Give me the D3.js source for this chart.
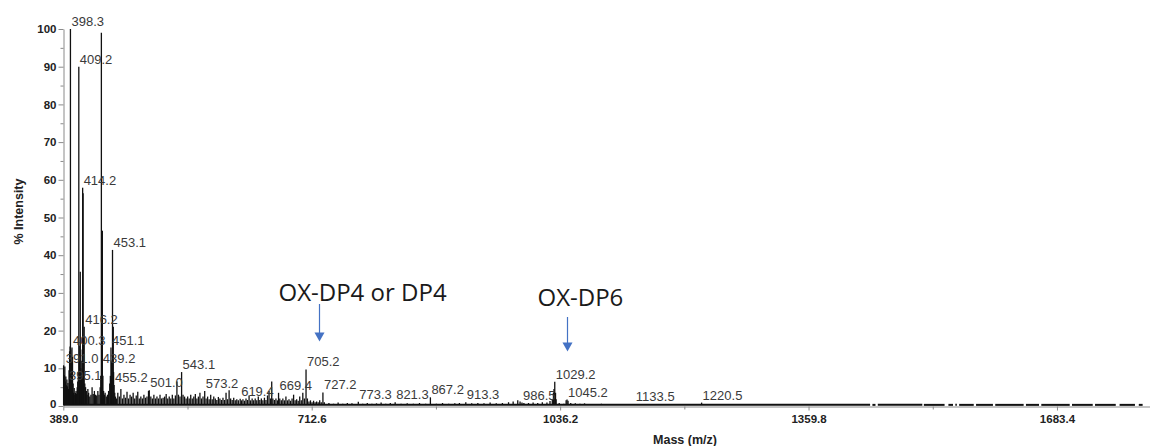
<!DOCTYPE html>
<html>
<head>
<meta charset="utf-8">
<script src="https://cdn.jsdelivr.net/npm/d3@7"></script>
<style>
  html, body { margin: 0; padding: 0; background: #fff; }
  svg { display: block; }
</style>
</head>
<body>
<svg id="chart" width="1150" height="446"></svg>
<script>
// ---- spectrum data: [m/z, % intensity] ----
const labelledPeaks = [
  [398.3, 100], [409.2, 90], [414.2, 57.9], [453.1, 41.4], [416.2, 21],
  [400.3, 15.5], [451.1, 15.5], [391.0, 10.5], [439.2, 10.5], [395.1, 6.1],
  [455.2, 5.6], [501.0, 4.2], [543.1, 9], [573.2, 4.0], [619.4, 1.9],
  [669.4, 3.5], [705.2, 9.7], [727.2, 3.6], [773.3, 1.1], [821.3, 1.0],
  [867.2, 2.3], [913.3, 1.0], [986.5, 0.9], [1029.2, 6.4], [1045.2, 1.7],
  [1133.5, 0.5], [1220.5, 0.9]
];

const unlabelledPeaks = [
  [438.6, 99], [439.9, 46.5], [414.8, 56.4], [411.1, 35.6], [454.1, 21],
  [660.5, 6.5], [537.0, 6.5], [605.0, 4.2], [1027.5, 3.5], [1028.2, 4.5]
];

const noisePeaks = [
  [389.4, 10.8], [389.9, 7.5], [390.4, 8.2], [391.6, 6.5], [392.3, 7.8],
  [393.0, 5.5], [393.7, 7.0], [394.4, 5.2], [395.8, 4.5], [396.5, 9.5],
  [397.2, 14.5], [397.8, 15.8], [398.8, 15.0], [399.4, 12.0], [401.0, 13.0],
  [401.8, 6.0], [402.5, 3.5], [403.2, 4.8], [404.0, 3.0], [404.8, 3.5],
  [405.6, 4.0], [406.3, 3.2], [407.1, 5.0], [407.8, 6.5], [408.5, 9.0],
  [409.9, 12.0], [410.5, 16.0], [411.8, 10.0], [412.5, 9.0], [413.2, 12.0],
  [413.7, 15.0], [415.4, 18.0], [417.0, 6.0], [418.0, 5.0], [419.0, 4.0],
  [420.0, 3.0], [421.0, 4.5], [422.0, 3.5], [423.5, 2.5], [425.0, 3.0],
  [426.5, 5.0], [428.0, 3.2], [429.5, 4.0], [431.0, 3.0], [432.5, 2.8],
  [434.0, 4.0], [435.5, 3.0], [437.0, 5.0], [437.8, 8.0], [440.6, 8.0],
  [441.5, 4.0], [442.5, 3.0], [443.5, 3.5], [445.0, 2.5], [446.5, 3.0],
  [448.0, 4.0], [449.5, 6.0], [450.3, 8.0], [451.8, 12.0], [452.4, 7.0],
  [454.5, 9.0], [456.0, 3.5], [457.0, 2.5], [458.5, 2.0], [460.0, 3.5],
  [462.0, 2.5], [464.0, 4.5], [466.0, 2.0], [468.0, 3.0], [470.0, 2.2],
  [472.0, 3.8], [474.0, 2.0], [476.0, 3.0], [478.0, 2.5], [480.0, 3.5],
  [482.0, 2.0], [484.0, 2.8], [486.0, 3.8], [488.0, 2.0], [490.0, 2.5],
  [492.0, 2.0], [494.0, 3.0], [496.0, 2.2], [498.0, 2.5], [500.0, 4.0],
  [503.0, 2.5], [505.0, 2.0], [507.0, 3.0], [509.0, 2.0], [511.0, 2.5],
  [513.0, 2.0], [515.0, 3.0], [517.0, 2.0], [519.0, 2.2], [521.0, 2.5],
  [523.0, 3.2], [525.0, 2.0], [527.0, 2.5], [529.0, 2.0], [531.0, 3.0],
  [533.0, 2.0], [535.0, 2.8], [539.0, 3.0], [541.0, 2.5], [545.0, 3.0],
  [547.0, 2.5], [549.0, 2.0], [551.0, 2.5], [553.0, 2.0], [555.0, 3.0],
  [557.0, 2.0], [559.0, 2.5], [561.0, 3.2], [563.0, 2.0], [565.0, 2.5],
  [567.0, 3.5], [569.0, 2.0], [571.0, 2.5], [575.0, 2.0], [577.0, 2.5],
  [579.0, 1.8], [581.0, 3.0], [583.0, 1.8], [585.0, 2.5], [587.0, 2.0],
  [589.0, 1.6], [591.0, 2.4], [593.0, 2.0], [595.0, 1.6], [597.0, 2.2],
  [599.0, 1.6], [601.0, 3.5], [603.0, 1.8], [607.0, 2.0], [609.0, 1.6],
  [611.0, 2.2], [613.0, 1.5], [615.0, 1.8], [617.0, 1.5], [621.0, 1.5],
  [623.0, 1.8], [625.0, 1.4], [627.0, 2.0], [629.0, 1.6], [631.0, 2.8],
  [633.0, 1.5], [635.0, 2.0], [637.0, 1.5], [639.0, 2.0], [641.0, 1.5],
  [643.0, 2.5], [645.0, 1.6], [647.0, 2.0], [649.0, 1.5], [651.0, 2.2],
  [653.0, 1.6], [655.0, 2.8], [657.0, 4.0], [659.0, 2.0], [662.0, 2.0],
  [664.0, 1.6], [666.0, 2.0], [668.0, 1.5], [671.0, 2.0], [673.0, 1.5],
  [675.0, 2.0], [677.0, 1.5], [679.0, 2.5], [681.0, 1.5], [683.0, 1.8],
  [685.0, 1.4], [687.0, 2.0], [689.0, 3.0], [691.0, 1.5], [693.0, 1.8],
  [695.0, 1.4], [697.0, 2.5], [699.0, 1.5], [701.0, 3.5], [703.0, 2.0],
  [707.0, 2.0], [709.0, 1.2], [711.0, 1.5], [713.0, 1.0], [715.0, 1.4],
  [717.0, 1.0], [719.0, 1.2], [721.0, 1.0], [723.0, 1.5], [725.0, 1.0],
  [729.0, 1.0], [735.0, 0.8], [741.0, 0.6], [747.0, 0.9], [753.0, 0.6],
  [759.0, 0.8], [765.0, 0.7], [779.0, 0.6], [785.0, 0.8], [791.0, 0.6],
  [797.0, 0.7], [803.0, 0.9], [809.0, 0.6], [815.0, 0.8], [829.0, 0.6],
  [837.0, 0.7], [845.0, 0.6], [853.0, 0.8], [861.0, 0.6], [875.0, 0.6],
  [883.0, 0.8], [891.0, 0.6], [899.0, 0.7], [905.0, 0.8], [921.0, 0.7],
  [929.0, 0.8], [937.0, 0.7], [945.0, 0.9], [953.0, 0.7], [961.0, 0.8],
  [969.0, 1.0], [975.0, 1.2], [981.0, 1.5], [984.0, 1.2], [989.0, 0.8],
  [995.0, 0.8], [1001.0, 0.9], [1007.0, 0.8], [1013.0, 1.0], [1019.0, 0.9],
  [1023.0, 1.3], [1026.0, 1.6], [1030.2, 3.5], [1031.0, 1.8], [1035.0, 0.8],
  [1041.0, 0.6], [1044.0, 1.5], [1046.5, 1.4], [1050.0, 0.8], [1056.0, 0.7],
  [1062.0, 0.6], [1068.0, 0.7], [1078.0, 0.5], [1090.0, 0.6]
];

// stretches of m/z where the baseline trace is recorded
const baselineRuns = [
  [389, 1440], [1443, 1447], [1450, 1508], [1510, 1537], [1542, 1548],
  [1551, 1553], [1556, 1575], [1578, 1600], [1603, 1640], [1643, 1660],
  [1663, 1700], [1703, 1730], [1733, 1760], [1765, 1785], [1790, 1795]
];
const baselineLevel = 0.3;

// axis ticks
const xTicks = [389.0, 712.6, 1036.2, 1359.8, 1683.4];
const xMinorTicks = [550.8, 874.4, 1198.0, 1521.6];
const yTicks = [0, 10, 20, 30, 40, 50, 60, 70, 80, 90, 100];
const yMinorTicks = [5, 15, 25, 35, 45, 55, 65, 75, 85, 95];

// annotations
const annotationLabels = ["OX-DP4 or DP4", "OX-DP6"];
const annotationMasses = [722.5, 1044.7];

// ---- drawing ----
const svg = d3.select("#chart");
const numFont = "'Liberation Sans', Arial, sans-serif";

const x = d3.scaleLinear().domain([389.0, 1804.6]).range([63.3, 1150]);
const y = d3.scaleLinear().domain([0, 100]).range([406, 29]);

// axis lines and ticks
const axisColor = "#8a8a8a";

const yAxis = d3.axisLeft(y).tickValues(yTicks).tickSize(5).tickSizeOuter(0).tickPadding(2)
  .tickFormat(d3.format("d"));
const gy = svg.append("g").attr("transform", "translate(63.5,0)").call(yAxis);
gy.select(".domain").attr("stroke", axisColor);
gy.selectAll(".tick line").attr("stroke", axisColor);
gy.selectAll(".tick text").attr("font-family", numFont).attr("font-weight", "bold")
  .attr("font-size", 11.5).attr("fill", "#222");
gy.selectAll(".tick").filter(d => d === 0).select("text").attr("dy", "0.1em");
svg.append("g").attr("transform", "translate(63.5,0)")
  .call(d3.axisLeft(y).tickValues(yMinorTicks).tickSize(3).tickFormat(""))
  .call(g => { g.select(".domain").remove(); g.selectAll(".tick line").attr("stroke", axisColor); });

const xAxis = d3.axisBottom(x).tickValues(xTicks).tickSize(4).tickSizeOuter(0).tickPadding(4)
  .tickFormat(d3.format(".1f"));
const gx = svg.append("g").attr("transform", "translate(0,406.5)").call(xAxis);
gx.select(".domain").attr("stroke", axisColor);
gx.selectAll(".tick line").attr("stroke", axisColor);
gx.selectAll(".tick text").attr("font-family", numFont).attr("font-weight", "bold")
  .attr("font-size", 11.5).attr("fill", "#222");
svg.append("g").attr("transform", "translate(0,406.5)")
  .call(d3.axisBottom(x).tickValues(xMinorTicks).tickSize(3).tickFormat(""))
  .call(g => { g.select(".domain").remove(); g.selectAll(".tick line").attr("stroke", axisColor); });

// axis titles
svg.append("text")
  .attr("transform", `translate(23,${y(50) - 6}) rotate(-90)`)
  .attr("text-anchor", "middle")
  .attr("font-family", numFont).attr("font-weight", "bold").attr("font-size", 12.5)
  .attr("fill", "#222")
  .text("% Intensity");

svg.append("text")
  .attr("x", 685).attr("y", 444)
  .attr("text-anchor", "middle")
  .attr("font-family", numFont).attr("font-weight", "bold").attr("font-size", 12.5)
  .attr("fill", "#222")
  .text("Mass (m/z)");

// baseline trace
svg.append("g").selectAll("line").data(baselineRuns).join("line")
  .attr("x1", d => x(d[0])).attr("x2", d => x(d[1]))
  .attr("y1", y(baselineLevel)).attr("y2", y(baselineLevel))
  .attr("stroke", "#111").attr("stroke-width", 2);

// peak sticks
const allPeaks = noisePeaks.concat(unlabelledPeaks, labelledPeaks);
svg.append("g").selectAll("line").data(allPeaks).join("line")
  .attr("x1", d => x(d[0])).attr("x2", d => x(d[0]))
  .attr("y1", y(baselineLevel)).attr("y2", d => y(d[1]))
  .attr("stroke", "#111").attr("stroke-width", 1.3);

// peak labels
svg.append("g").selectAll("text").data(labelledPeaks).join("text")
  .attr("x", d => x(d[0]) + 1)
  .attr("y", d => y(d[1]) - 3)
  .attr("font-family", numFont).attr("font-size", 13).attr("fill", "#3a3a3a")
  .text(d => d[0].toFixed(1));

// annotation labels and arrows
const annColor = "#4472C4";
const annLayout = [
  { textDx: -41, textY: 301, lineTop: 304, tipY: 341.5 },
  { textDx: -30, textY: 306, lineTop: 317, tipY: 351.5 }
];
annotationLabels.forEach((label, i) => {
  const ax = Math.round(x(annotationMasses[i])) + 0.5;
  const L = annLayout[i];
  svg.append("text")
    .attr("x", ax + L.textDx).attr("y", L.textY)
    .attr("font-family", "'Open Sans', 'Noto Sans', sans-serif").attr("font-size", 24)
    .attr("fill", "#1a1a1a")
    .text(label);
  svg.append("line")
    .attr("x1", ax).attr("x2", ax).attr("y1", L.lineTop).attr("y2", L.tipY - 8)
    .attr("stroke", annColor).attr("stroke-width", 1.2);
  svg.append("path")
    .attr("d", `M${ax - 5},${L.tipY - 9} L${ax + 5},${L.tipY - 9} L${ax},${L.tipY} Z`)
    .attr("fill", annColor);
});
</script>
</body>
</html>
